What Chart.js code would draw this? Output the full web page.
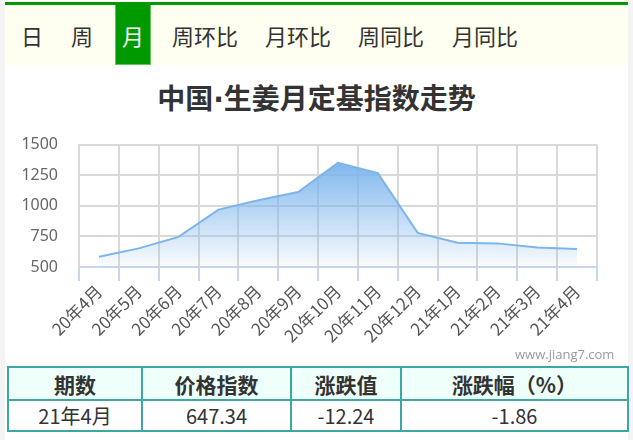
<!DOCTYPE html>
<html><head><meta charset="utf-8">
<script src="https://cdn.jsdelivr.net/npm/chart.js@4/dist/chart.umd.min.js"></script>
<style>
html,body{margin:0;padding:0;}
body{width:633px;height:440px;background:#f4f4f4;position:relative;overflow:hidden;font-family:"Noto Sans CJK SC","Noto Sans",sans-serif;}
#wrap{position:absolute;left:5px;top:0;width:623px;height:440px;background:#fff;}
#topline{position:absolute;left:5px;top:2px;width:623px;height:3px;background:#009900;}
#nav{position:absolute;left:5px;top:5px;width:623px;height:60px;background:#fefff0;}
.nt{position:absolute;top:5px;height:60px;line-height:60px;font-size:22px;color:#333;white-space:nowrap;}
#sel{position:absolute;left:115px;top:5px;width:34px;height:59px;background:#009900;border:1px solid #5fc65f;border-top:none;}
#title{position:absolute;left:0;top:77px;width:633px;text-align:center;font-size:28px;font-weight:bold;color:#333;}
#title .dot{font-family:"DejaVu Sans",sans-serif;}
#cv{position:absolute;left:0;top:114px;}
#wm{position:absolute;left:515px;top:345px;font-size:13px;color:#999;font-family:"Open Sans","Noto Sans",sans-serif;}
table{position:absolute;left:7px;top:366px;border-collapse:collapse;}
td{border:2px solid #3ba8a2;text-align:center;color:#333;padding:0;}
tr.h td{background:#effffa;font-weight:bold;font-size:21px;height:31px;}
tr.d td{font-size:20px;height:29px;}
</style></head>
<body>
<div id="wrap"></div>
<div id="topline"></div>
<div id="nav"></div>
<div id="sel"></div>
<span class="nt" style="left:21px">日</span>
<span class="nt" style="left:71px">周</span>
<span class="nt" style="left:122px;color:#fff">月</span>
<span class="nt" style="left:172px">周环比</span>
<span class="nt" style="left:265px">月环比</span>
<span class="nt" style="left:358px">周同比</span>
<span class="nt" style="left:452px">月同比</span>
<div id="title">中国<span class="dot">·</span>生姜月定基指数走势</div>
<canvas id="cv" width="633" height="251"></canvas>
<div id="wm">www.jiang7.com</div>
<table>
<tr class="h"><td style="width:132px">期数</td><td style="width:147px">价格指数</td><td style="width:108px">涨跌值</td><td style="width:225px">涨跌幅（%）</td></tr>
<tr class="d"><td>21年4月</td><td>647.34</td><td>-12.24</td><td>-1.86</td></tr>
</table>
<script>
const categories = ['20年4月','20年5月','20年6月','20年7月','20年8月','20年9月','20年10月','20年11月','20年12月','21年1月','21年2月','21年3月','21年4月'];
const indexValues = [584, 652, 746, 969, 1045, 1112, 1351, 1267, 779, 698, 693, 659.58, 647.34];
const yTicks = [500, 750, 1000, 1250, 1500];

const ctx = document.getElementById('cv');
new Chart(ctx, {
  type: 'line',
  data: {
    labels: categories,
    datasets: [{
      data: indexValues,
      borderColor: '#7cb5ec',
      borderWidth: 2,
      pointRadius: 0,
      tension: 0,
      fill: 'start',
      backgroundColor: function(c){
        const ca = c.chart.chartArea;
        if (!ca) return 'rgba(124,181,236,0.5)';
        const g = c.chart.ctx.createLinearGradient(0, ca.top + 15, 0, ca.bottom);
        g.addColorStop(0, 'rgba(124,181,236,1)');
        g.addColorStop(1, 'rgba(124,181,236,0.04)');
        return g;
      }
    }]
  },
  options: {
    responsive: false,
    animation: false,
    events: [],
    layout: { padding: { left: 0, right: 36, top: 14, bottom: 0 } },
    plugins: { legend: { display: false }, tooltip: { enabled: false } },
    scales: {
      x: {
        offset: true,
        grid: { offset: true, color: '#d9d9d9', lineWidth: 2, tickColor: '#c6d6ec', tickLength: 14, tickWidth: 2 },
        border: { color: '#c6d6ec', width: 2 },
        ticks: { minRotation: 45, maxRotation: 45, color: '#555', font: { size: 17, family: '"Noto Sans CJK SC"' }, padding: 0, autoSkip: false },
        afterFit: function(s){ s.height = 98; }
      },
      y: {
        min: 500, max: 1500,
        afterBuildTicks: function(s){ s.ticks = yTicks.map(v => ({ value: v })); },
        grid: { color: '#d9d9d9', lineWidth: 2, drawTicks: false },
        border: { color: '#d9d9d9', width: 2 },
        ticks: { color: '#666', font: { size: 16, family: '"Noto Sans","Noto Sans CJK SC"' }, padding: 21, callback: function(v){ return String(v); } },
        afterFit: function(s){ s.width = 79; }
      }
    }
  }
});
</script>
</body></html>
